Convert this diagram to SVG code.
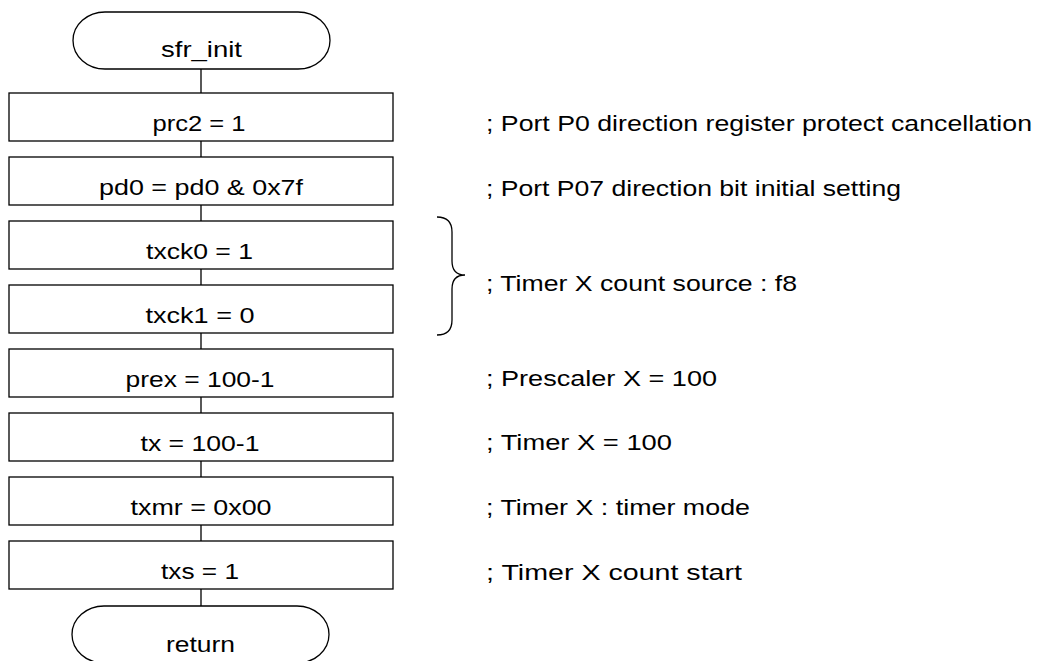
<svg xmlns="http://www.w3.org/2000/svg" width="1038" height="661" viewBox="0 0 1038 661">
<style>
.shape{fill:#fff;stroke:#000;stroke-width:1.3}
.line{fill:none;stroke:#000;stroke-width:1.3}
.t{font-family:"Liberation Sans",Arial,sans-serif;font-size:22px;fill:#000}
.c{text-anchor:middle}
</style>
<rect width="1038" height="661" fill="#fff"/>
<g id="connectors">
<path class="line" d="M201,69V93M201,141V157M201,205V221M201,269V285M201,333V349M201,397V413M201,461V477M201,525V541M201,589V606"/>
</g>
<g id="start"><rect class="shape" x="73" y="12" width="257" height="57" rx="32" ry="28.5"/><text class="t c" x="201.5" y="57" textLength="81" lengthAdjust="spacingAndGlyphs">sfr_init</text></g>
<g id="n1"><rect class="shape" x="9" y="93" width="384" height="48"/><text class="t c" x="199" y="131" textLength="93" lengthAdjust="spacingAndGlyphs">prc2 = 1</text></g>
<g id="n2"><rect class="shape" x="9" y="157" width="384" height="48"/><text class="t c" x="201" y="195" textLength="204" lengthAdjust="spacingAndGlyphs">pd0 = pd0 &amp; 0x7f</text></g>
<g id="n3"><rect class="shape" x="9" y="221" width="384" height="48"/><text class="t c" x="199.5" y="259" textLength="107" lengthAdjust="spacingAndGlyphs">txck0 = 1</text></g>
<g id="n4"><rect class="shape" x="9" y="285" width="384" height="48"/><text class="t c" x="200" y="323" textLength="109" lengthAdjust="spacingAndGlyphs">txck1 = 0</text></g>
<g id="n5"><rect class="shape" x="9" y="349" width="384" height="48"/><text class="t c" x="200" y="387" textLength="149" lengthAdjust="spacingAndGlyphs">prex = 100-1</text></g>
<g id="n6"><rect class="shape" x="9" y="413" width="384" height="48"/><text class="t c" x="200" y="451" textLength="119" lengthAdjust="spacingAndGlyphs">tx = 100-1</text></g>
<g id="n7"><rect class="shape" x="9" y="477" width="384" height="48"/><text class="t c" x="201" y="515" textLength="141" lengthAdjust="spacingAndGlyphs">txmr = 0x00</text></g>
<g id="n8"><rect class="shape" x="9" y="541" width="384" height="48"/><text class="t c" x="200" y="579" textLength="78" lengthAdjust="spacingAndGlyphs">txs = 1</text></g>
<g id="end"><rect class="shape" x="72" y="606" width="257" height="57" rx="32" ry="28.5"/><text class="t c" x="200.5" y="652" textLength="69" lengthAdjust="spacingAndGlyphs">return</text></g>
<g id="brace"><path class="line" d="M437,217Q452,217 452,232L452,261Q452,275 465,275Q452,275 452,289L452,320Q452,335 437,335"/></g>
<g id="comments">
<text class="t" x="486" y="131" textLength="546" lengthAdjust="spacingAndGlyphs">; Port P0 direction register protect cancellation</text>
<text class="t" x="486" y="196" textLength="415" lengthAdjust="spacingAndGlyphs">; Port P07 direction bit initial setting</text>
<text class="t" x="486" y="291" textLength="311" lengthAdjust="spacingAndGlyphs">; Timer X count source : f8</text>
<text class="t" x="486" y="386" textLength="231" lengthAdjust="spacingAndGlyphs">; Prescaler X = 100</text>
<text class="t" x="486" y="450" textLength="186" lengthAdjust="spacingAndGlyphs">; Timer X = 100</text>
<text class="t" x="486" y="515" textLength="264" lengthAdjust="spacingAndGlyphs">; Timer X : timer mode</text>
<text class="t" x="486" y="580" textLength="256" lengthAdjust="spacingAndGlyphs">; Timer X count start</text>
</g>
</svg>
